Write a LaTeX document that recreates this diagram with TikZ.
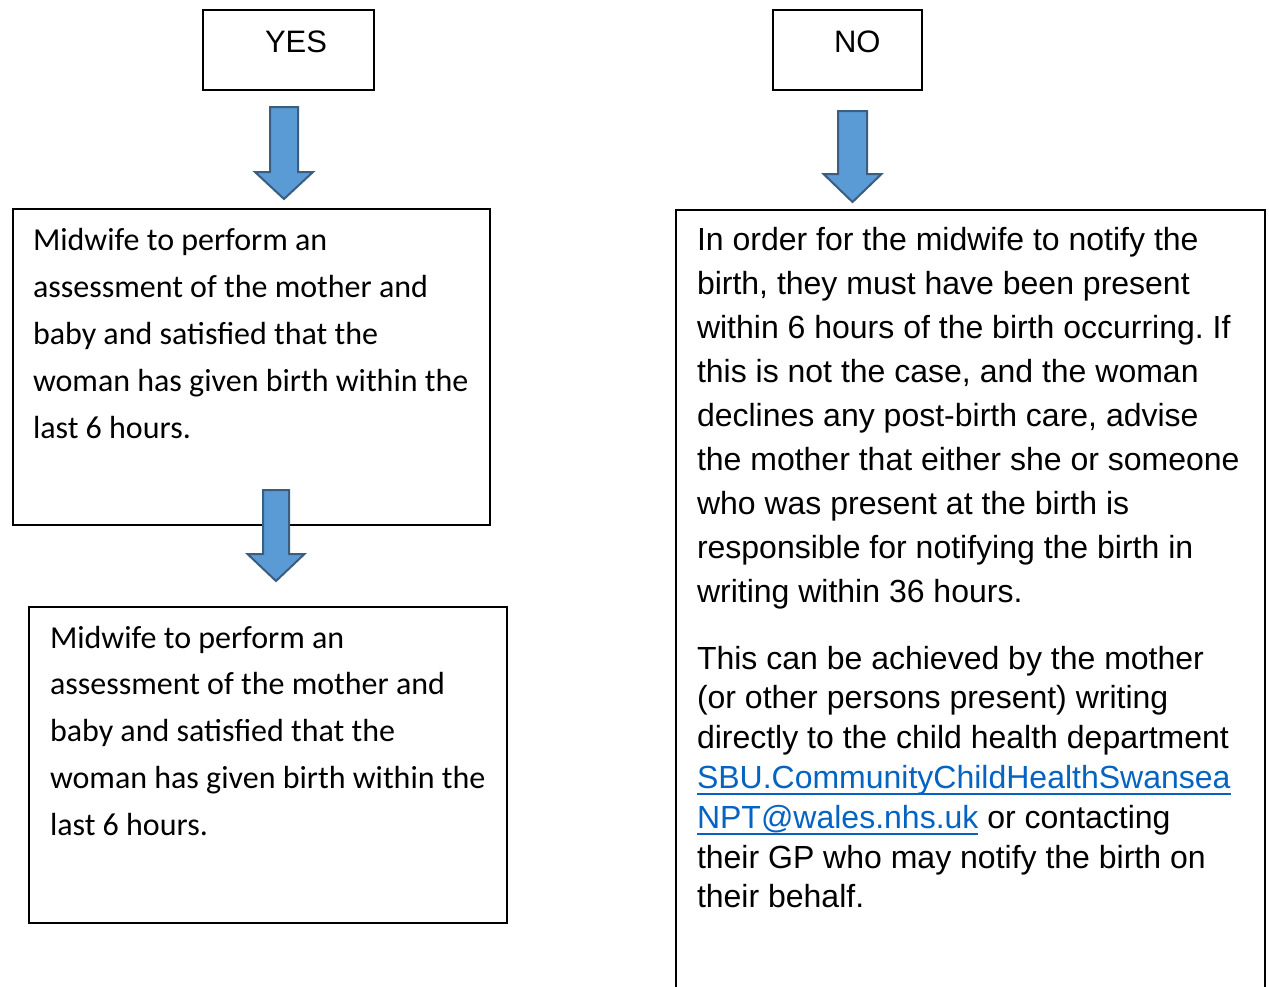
\documentclass[tikz,border=0pt]{standalone}
\usepackage{fontspec}
\setmainfont{Liberation Sans}
\newfontfamily\calibrifont{Carlito}
\frenchspacing
\definecolor{arrowfill}{HTML}{5B9BD5}
\definecolor{arrowline}{HTML}{3A5D80}
\definecolor{linkblue}{HTML}{0563C1}
\newlength\ulinklen
\newcommand\ulinktext[1]{\settowidth\ulinklen{#1}\textcolor{linkblue}{\rlap{\rule[-7pt]{\ulinklen}{2pt}}#1}}
\newcommand\blkarrow[6]{%
  \draw[blockarrow] (#1-#5,#2) -- (#1+#5,#2) -- (#1+#5,#3) -- (#1+#6,#3) -- (#1,#4) -- (#1-#6,#3) -- (#1-#5,#3) -- cycle;}
\begin{document}
\begin{tikzpicture}[x=1pt,y=-1pt,
  box/.style={draw=black,line width=2pt,rectangle,inner sep=0pt,anchor=north west},
  txt/.style={anchor=base west,inner sep=0pt,outer sep=0pt},
  blockarrow/.style={fill=arrowfill,draw=arrowline,line width=2pt,line join=miter}]
\useasboundingbox (0,0) rectangle (1269,986);
\clip (0,0) rectangle (1269,986);
\fill[white] (0,0) rectangle (1269,986);
% boxes
\node[box,minimum width=171pt,minimum height=80pt] (yes) at (201.5,9) {};
\node[box,minimum width=149pt,minimum height=80pt] (no) at (771.5,9) {};
\node[box,minimum width=477pt,minimum height=316pt] (box1) at (11.5,208) {};
\node[box,minimum width=478pt,minimum height=316pt] (box2) at (27.5,606) {};
\node[box,minimum width=589pt,minimum height=820pt] (nobox) at (675,209) {};
% labels
\node[txt] (yestxt) at (265,52) {\fontsize{31}{36}\selectfont YES};
\node[txt] (notxt) at (834,52) {\fontsize{31}{36}\selectfont NO};
\node[txt] (t1) at (33,250) {\begin{minipage}[t]{460pt}\calibrifont\fontsize{32}{47}\selectfont
Midwife to perform an\\
assessment of the mother and\\
baby and satisfied that the\\
woman has given birth within the\\
last 6 hours.\end{minipage}};
\node[txt] (t2) at (50,648) {\begin{minipage}[t]{460pt}\calibrifont\fontsize{32}{46.8}\selectfont
Midwife to perform an\\
assessment of the mother and\\
baby and satisfied that the\\
woman has given birth within the\\
last 6 hours.\end{minipage}};
\node[txt] (p1) at (697,250) {\begin{minipage}[t]{565pt}\fontsize{32}{44.1}\selectfont
In order for the midwife to notify the\\
birth, they must have been present\\
within 6 hours of the birth occurring. If\\
this is not the case, and the woman\\
declines any post-birth care, advise\\
the mother that either she or someone\\
who was present at the birth is\\
responsible for notifying the birth in\\
writing within 36 hours.\end{minipage}};
\node[txt] (p2) at (697,669) {\begin{minipage}[t]{565pt}\fontsize{32}{39.8}\selectfont
This can be achieved by the mother\\
(or other persons present) writing\\
directly to the child health department\\
\ulinktext{SBU.CommunityChildHealthSwansea}\\
\ulinktext{NPT@wales.nhs.uk} or contacting\\
their GP who may notify the birth on\\
their behalf.\end{minipage}};
% block arrows
\blkarrow{284}{107}{172}{199}{14}{29}
\blkarrow{852.5}{111}{174}{202}{14.5}{29}
\blkarrow{276}{490}{554}{581}{13}{28.5}
\end{tikzpicture}
\end{document}
